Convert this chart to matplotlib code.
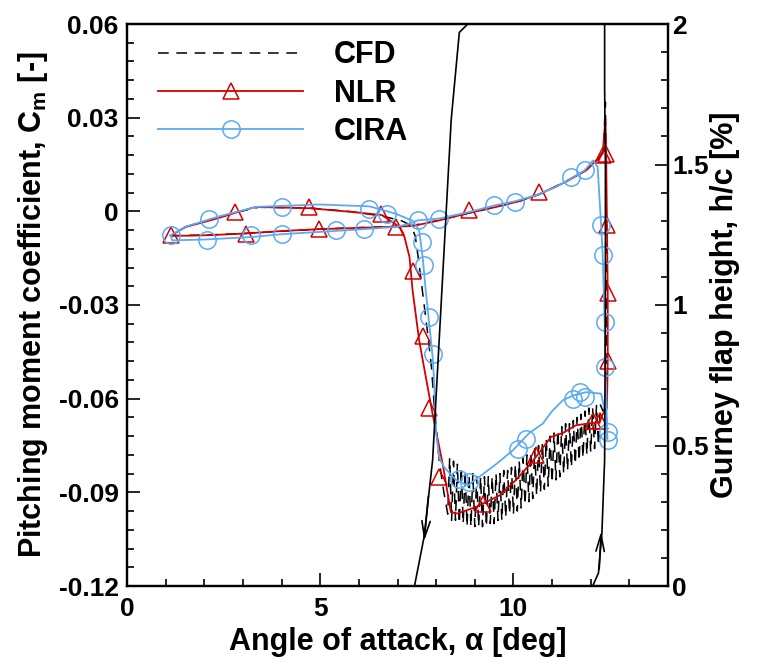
import matplotlib
matplotlib.use('Agg')
import matplotlib.pyplot as plt
from matplotlib.lines import Line2D
from matplotlib.ticker import MultipleLocator, FixedLocator, FixedFormatter

plt.rcParams['font.family'] = ['Liberation Sans', 'DejaVu Sans']
plt.rcParams['font.weight'] = 'bold'
plt.rcParams['axes.labelweight'] = 'bold'
plt.rcParams['mathtext.fontset'] = 'custom'
plt.rcParams['mathtext.rm'] = 'Liberation Sans:bold'
plt.rcParams['axes.unicode_minus'] = False

# CFD (black dashed): upstroke, flap deploy, downstroke with flap (oscillating), retract, downstroke
cfd_alpha = [1.13, 2.0, 3.0, 4.0, 5.0, 6.0, 7.0, 7.4, 8.1, 8.9,
             9.6, 10.2, 10.7, 11.3, 11.9, 12.2, 12.33, 12.38, 12.40, 12.41,
             12.41, 12.40, 12.32,
             12.25, 12.20, 12.15, 12.10, 12.05, 12.00, 11.95, 11.90, 11.85, 11.80,
             11.75, 11.70, 11.65, 11.60, 11.55, 11.50, 11.45, 11.40, 11.35, 11.30,
             11.25, 11.20, 11.15, 11.10, 11.05, 11.00, 10.95, 10.90, 10.85, 10.80,
             10.75, 10.70, 10.65, 10.60, 10.55, 10.50, 10.45, 10.40, 10.35, 10.30,
             10.25, 10.20, 10.15, 10.10, 10.05, 10.00, 9.95, 9.90, 9.85, 9.80,
             9.75, 9.70, 9.65, 9.60, 9.55, 9.50, 9.45, 9.40, 9.35, 9.30,
             9.25, 9.20, 9.15, 9.10, 9.05, 9.00, 8.95, 8.90, 8.85, 8.80,
             8.75, 8.70, 8.65, 8.60, 8.55, 8.50, 8.45, 8.40, 8.35, 8.30,
             8.2, 8.08, 7.95, 7.88, 7.78, 7.66, 7.55, 7.46, 7.35, 7.1,
             6.6, 5.8, 4.7, 3.4, 2.8, 2.3, 1.5, 1.13]
cfd_cm = [-0.0078, -0.0076, -0.0071, -0.0064, -0.0057, -0.0052, -0.0048, -0.0045, -0.0028, -0.0004,
          0.0016, 0.0034, 0.0056, 0.0092, 0.0134, 0.0168, 0.0195, 0.035, 0.010, -0.020,
          -0.045, -0.062, -0.064,
          -0.062, -0.075, -0.062, -0.076, -0.063, -0.077, -0.063, -0.078, -0.064, -0.079,
          -0.065, -0.080, -0.066, -0.081, -0.067, -0.082, -0.068, -0.083, -0.068, -0.084,
          -0.069, -0.085, -0.070, -0.086, -0.071, -0.087, -0.072, -0.088, -0.073, -0.089,
          -0.074, -0.090, -0.075, -0.091, -0.076, -0.092, -0.077, -0.093, -0.078, -0.094,
          -0.079, -0.095, -0.080, -0.096, -0.081, -0.097, -0.082, -0.097, -0.083, -0.098,
          -0.083, -0.099, -0.084, -0.099, -0.084, -0.100, -0.085, -0.100, -0.085, -0.101,
          -0.085, -0.101, -0.085, -0.101, -0.085, -0.101, -0.084, -0.101, -0.084, -0.101,
          -0.083, -0.100, -0.082, -0.100, -0.081, -0.099, -0.080, -0.099, -0.079, -0.097,
          -0.090, -0.080, -0.062, -0.050, -0.039, -0.027, -0.016, -0.008, -0.0045, -0.003,
          -0.0015, -0.0001, 0.0011, 0.0013, -0.0004, -0.0022, -0.005, -0.0078]

# NLR (red line)
nlr_alpha = [1.13, 1.6, 2.2, 3.07, 4.0, 4.97, 6.0, 6.96, 7.4, 8.08,
             8.86, 9.55, 10.1, 10.67, 11.35, 11.88, 12.14, 12.31, 12.38, 12.40,
             12.42, 12.44, 12.44, 12.42, 12.31, 12.23, 11.62, 11.28, 10.97, 10.5,
             10.07, 9.64, 9.03, 8.55, 8.38, 8.17, 7.91, 7.78, 7.56, 7.39,
             7.31, 7.18, 7.05, 6.6, 5.83, 4.72, 3.33, 2.82, 2.33, 1.52,
             1.13]
nlr_cm = [-0.0078, -0.0078, -0.0076, -0.0071, -0.0063, -0.0057, -0.0053, -0.0049, -0.0047, -0.0029,
          -0.0005, 0.0014, 0.0031, 0.0055, 0.0094, 0.0131, 0.0163, 0.0185, 0.0297, 0.018,
          -0.0045, -0.026, -0.048, -0.063, -0.065, -0.0675, -0.0685, -0.071, -0.0723, -0.080,
          -0.086, -0.091, -0.0947, -0.0968, -0.0963, -0.081, -0.065, -0.0563, -0.0413, -0.0253,
          -0.0146, -0.0082, -0.005, -0.0012, -0.0002, 0.001, 0.0014, -0.0004, -0.0023, -0.005,
          -0.0078]
# NLR triangle markers
nlr_mk_alpha = [1.13, 2.80, 3.07, 4.72, 4.97, 6.57, 6.96, 7.39, 7.65, 7.81,
                8.08, 8.86, 9.20, 10.59, 10.67, 12.06, 12.23, 12.31, 12.40, 12.42,
                12.44, 12.44]
nlr_mk_cm = [-0.0077, -0.0002, -0.0071, 0.0014, -0.0055, -0.0007, -0.005, -0.019, -0.040, -0.063,
             -0.085, 0.0003, -0.0936, -0.078, 0.0062, -0.067, -0.067, 0.018, 0.0185, -0.0045,
             -0.026, -0.048]

# CIRA (blue line)
cira_alpha = [1.13, 1.17, 2.06, 3.25, 4.02, 4.97, 6.14, 6.96, 7.3, 7.52,
              8.08, 8.86, 9.51, 10.03, 10.6, 11.1, 11.49, 11.84, 12.06, 12.18,
              12.23, 12.27, 12.31, 12.36, 12.38, 12.41, 12.43, 12.40, 12.27, 11.88,
              11.54, 11.28, 11.0, 10.76, 10.41, 9.98, 9.55, 9.12, 8.82, 8.51,
              8.21, 8.08, 8.0, 7.95, 7.91, 7.82, 7.73, 7.65, 7.56, 7.39,
              6.96, 6.27, 4.97, 3.33, 2.33, 1.5, 1.13]
cira_cm = [-0.0077, -0.0093, -0.0090, -0.0082, -0.0073, -0.0066, -0.0057, -0.0050, -0.0040, -0.0029,
           -0.0023, -0.0002, 0.0019, 0.0032, 0.0052, 0.0078, 0.0105, 0.0131, 0.0163, 0.0142,
           0.0035, -0.0045, -0.014, -0.035, -0.050, -0.062, -0.073, -0.066, -0.0584, -0.0579,
           -0.059, -0.0605, -0.064, -0.068, -0.071, -0.0766, -0.081, -0.085, -0.0878, -0.086,
           -0.082, -0.079, -0.071, -0.055, -0.0467, -0.036, -0.0253, -0.0146, -0.006, -0.0030,
           -0.0008, 0.0016, 0.0022, 0.0014, -0.0018, -0.005, -0.0077]
# CIRA circle markers
cira_mk_alpha = [1.13, 2.11, 2.06, 3.2, 4.02, 4.02, 5.41, 6.14, 6.27, 6.74,
                 7.52, 7.63, 7.69, 7.82, 7.91, 8.08, 9.51, 10.03, 11.49, 11.84,
                 12.27, 12.31, 12.38, 12.38, 12.44, 12.44, 11.84, 11.71, 11.54, 10.33,
                 10.11, 8.86, 8.6]
cira_mk_cm = [-0.0077, -0.0023, -0.0091, -0.0077, 0.0014, -0.0071, -0.0061, -0.0056, 0.0009, -0.0008,
              -0.0029, -0.0098, -0.0173, -0.0339, -0.0456, -0.0023, 0.0019, 0.003, 0.011, 0.0131,
              -0.0045, -0.014, -0.0355, -0.050, -0.0707, -0.0733, -0.0595, -0.058, -0.060, -0.073,
              -0.076, -0.0867, -0.0856]

# Gurney flap height (right axis)
flap_up_alpha = [12.05, 12.2, 12.29, 12.36, 12.38, 12.38, 12.36, 12.36]
flap_up_h = [0.0, 0.046, 0.19, 0.45, 1.02, 1.5, 1.77, 2.0]
flap_down_alpha = [8.82, 8.6, 8.39, 7.91, 7.69, 7.44]
flap_down_h = [2.0, 1.97, 1.66, 0.45, 0.176, 0.0]

red = '#d40000'
blue = '#5aaaf5'

fig = plt.figure(figsize=(7.66, 6.58), dpi=100)
ax = fig.add_axes([127/766, 72/658, 541/766, 562/658])

ax.plot(cfd_alpha, cfd_cm, color='black', lw=1.1, dashes=(7, 5))
ax.plot(nlr_alpha, nlr_cm, color=red, lw=1.3)
ax.plot(nlr_mk_alpha, nlr_mk_cm, ls='none', marker='^', ms=11, mfc='none', mec=red, mew=1.1)
ax.plot(cira_alpha, cira_cm, color=blue, lw=1.3)
ax.plot(cira_mk_alpha, cira_mk_cm, ls='none', marker='o', ms=12.5, mfc='none', mec=blue, mew=1.1)

ax.set_xlim(0, 14)
ax.set_ylim(-0.12, 0.06)
ax.xaxis.set_major_locator(MultipleLocator(5))
ax.xaxis.set_minor_locator(MultipleLocator(1))
yt = [-0.12, -0.09, -0.06, -0.03, 0, 0.03, 0.06]
ax.yaxis.set_major_locator(FixedLocator(yt))
ax.yaxis.set_major_formatter(FixedFormatter(['-0.12', '-0.09', '-0.06', '-0.03', '0', '0.03', '0.06']))
ax.yaxis.set_minor_locator(MultipleLocator(0.006))
ax.tick_params(which='both', direction='in', top=False, right=False, labelsize=19, width=1.2)
ax.tick_params(which='major', length=9.5)
ax.tick_params(which='minor', length=5)
ax.tick_params(axis='x', pad=8)
ax.tick_params(axis='y', pad=6)
for s in ax.spines.values():
    s.set_linewidth(1.6)

ax.set_xlabel('Angle of attack, α [deg]', fontsize=22, labelpad=4)
ax.set_ylabel(r'Pitching moment coefficient, C$_\mathregular{m}$ [-]', fontsize=22, labelpad=6)

ax2 = ax.twinx()
ax2.plot(flap_up_alpha, flap_up_h, color='black', lw=1.2)
ax2.plot(flap_down_alpha, flap_down_h, color='black', lw=1.2)
ax2.annotate('', xy=(7.69, 0.16), xytext=(7.80, 0.32),
             arrowprops=dict(arrowstyle='->,head_length=1.2,head_width=0.3', lw=1.2, color='black',
                             shrinkA=0, shrinkB=0))
ax2.annotate('', xy=(12.27, 0.195), xytext=(12.22, 0.06),
             arrowprops=dict(arrowstyle='->,head_length=1.2,head_width=0.3', lw=1.2, color='black',
                             shrinkA=0, shrinkB=0))
ax2.set_ylim(0, 2)
ax2.yaxis.set_major_locator(FixedLocator([0, 0.5, 1, 1.5, 2]))
ax2.yaxis.set_major_formatter(FixedFormatter(['0', '0.5', '1', '1.5', '2']))
ax2.yaxis.set_minor_locator(MultipleLocator(0.1))
ax2.tick_params(which='both', direction='in', labelsize=19, width=1.2, pad=3)
ax2.tick_params(which='major', length=9.5)
ax2.tick_params(which='minor', length=5)
for s in ax2.spines.values():
    s.set_linewidth(1.6)
ax2.set_ylabel('Gurney flap height, h/c [%]', fontsize=22, labelpad=1)

handles = [
    Line2D([], [], color='black', lw=1.1, dashes=(7, 5)),
    Line2D([], [], color=red, lw=1.3, marker='^', ms=11, mfc='none', mec=red, mew=1.1),
    Line2D([], [], color=blue, lw=1.3, marker='o', ms=12.5, mfc='none', mec=blue, mew=1.1),
]
ax.legend(handles, ['CFD', 'NLR', 'CIRA'], loc='upper left', bbox_to_anchor=(0.029, 0.998),
          frameon=False, fontsize=22, handlelength=4.75, handletextpad=1.0,
          labelspacing=0.27, numpoints=1, borderpad=0)

fig.savefig('out.png', dpi=100)
